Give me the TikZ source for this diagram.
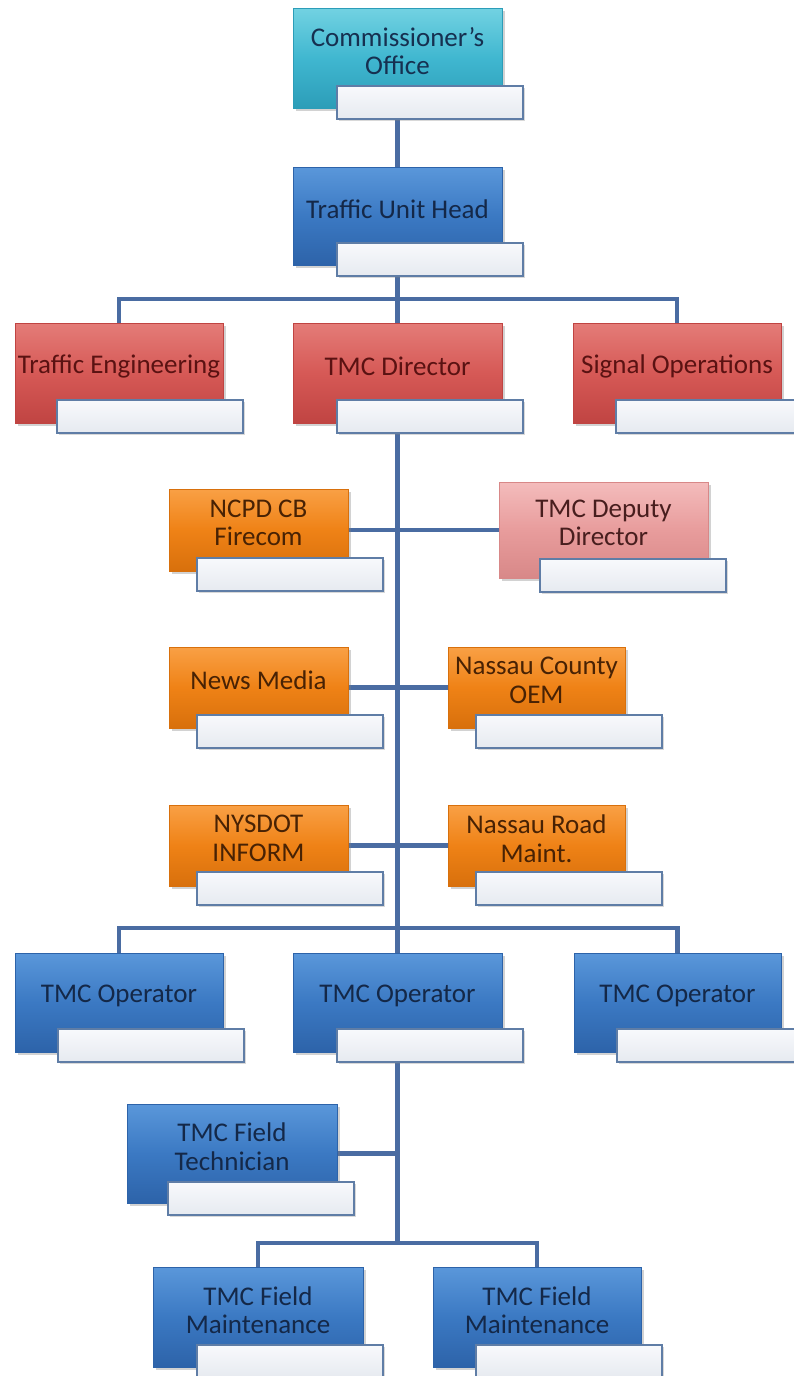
\documentclass[tikz,border=0pt]{standalone}
\usepackage{fontspec}
\setmainfont{Carlito}
\usetikzlibrary{shadows}
\definecolor{tealtop}{HTML}{72D2E2}
\definecolor{tealmid}{HTML}{40B7D0}
\definecolor{tealbot}{HTML}{2C9DB8}
\definecolor{bluetop}{HTML}{5A97DA}
\definecolor{bluemid}{HTML}{3B79C3}
\definecolor{bluebot}{HTML}{2D63A9}
\definecolor{redtop}{HTML}{E47C78}
\definecolor{redmid}{HTML}{D65956}
\definecolor{redbot}{HTML}{C04442}
\definecolor{orangetop}{HTML}{F9A045}
\definecolor{orangemid}{HTML}{EF8216}
\definecolor{orangebot}{HTML}{D8700C}
\definecolor{pinktop}{HTML}{F4BCBC}
\definecolor{pinkmid}{HTML}{E89C9C}
\definecolor{pinkbot}{HTML}{D88888}
\definecolor{connblue}{HTML}{4A6CA2}
\definecolor{subedge}{HTML}{5F7DA6}
\pgfdeclarelayer{bg}
\pgfsetlayers{bg,main}
\newcommand{\orgnode}[8]{%
  \node[#2box, minimum width=#4pt, minimum height=#5pt] (#1) at #3 {};
  \node[#2txt] (#1T) at ([yshift=7pt]#1.center) {#8};
  \node[subbox, anchor=north west] (#1S) at ([xshift=#6pt, yshift=-#7pt]#1.north west) {};
}
\begin{document}
\begin{tikzpicture}[x=1pt,y=-1pt,
  boxbase/.style={rectangle, inner sep=0pt, outer sep=0pt, line width=0.8pt,
    drop shadow={shadow xshift=2.5pt, shadow yshift=-2.5pt, opacity=0.35}},
  tealbox/.style={boxbase, draw=tealbot, top color=tealtop, bottom color=tealbot, middle color=tealmid},
  bluebox/.style={boxbase, draw=bluebot, top color=bluetop, bottom color=bluebot, middle color=bluemid},
  redbox/.style={boxbase, draw=redbot, top color=redtop, bottom color=redbot, middle color=redmid},
  orangebox/.style={boxbase, draw=orangebot, top color=orangetop, bottom color=orangebot, middle color=orangemid},
  pinkbox/.style={boxbase, draw=pinkbot, top color=pinktop, bottom color=pinkbot, middle color=pinkmid},
  txtbase/.style={align=center, inner sep=0pt, font=\fontsize{27}{28.5}\selectfont},
  tealtxt/.style={txtbase, text={rgb,255:red,22;green,48;blue,80}},
  bluetxt/.style={txtbase, text={rgb,255:red,20;green,40;blue,72}},
  redtxt/.style={txtbase, text={rgb,255:red,90;green,18;blue,18}},
  orangetxt/.style={txtbase, text={rgb,255:red,72;green,34;blue,4}},
  pinktxt/.style={txtbase, text={rgb,255:red,72;green,30;blue,30}},
  subbox/.style={rectangle, inner sep=0pt, outer sep=0pt, minimum width=186pt, minimum height=33pt,
    draw=subedge, line width=1.2pt, top color={rgb,255:red,248;green,249;blue,252},
    bottom color={rgb,255:red,230;green,234;blue,240},
    drop shadow={shadow xshift=2pt, shadow yshift=-2pt, opacity=0.3}},
  conn/.style={draw=connblue, line width=4.8pt, line join=miter}
]
\useasboundingbox (0,0) rectangle (794,1376);

\orgnode{com}{teal}{(397.5,58)}{209}{100}{44}{78}{Commissioner’s\\Office}
\orgnode{uh}{blue}{(397.5,216)}{209}{98}{44}{76}{Traffic Unit Head}
\orgnode{te}{red}{(119,373)}{208}{100}{42}{77}{Traffic Engineering}
\orgnode{dir}{red}{(397.5,373)}{209}{100}{44}{77}{TMC Director}
\orgnode{so}{red}{(677,373)}{208}{100}{43}{77}{Signal Operations}
\orgnode{ncpd}{orange}{(258.5,530)}{179}{82}{28}{69}{NCPD CB\\Firecom}
\orgnode{dep}{pink}{(603.5,530)}{209}{96}{41}{77}{TMC Deputy\\Director}
\orgnode{news}{orange}{(258.5,687.5)}{179}{81}{28}{68}{News Media}
\orgnode{oem}{orange}{(536.5,687.5)}{177}{81}{28}{68}{Nassau County\\OEM}
\orgnode{nys}{orange}{(258.5,845.5)}{179}{81}{28}{67}{NYSDOT\\INFORM}
\orgnode{road}{orange}{(536.5,845.5)}{177}{81}{28}{67}{Nassau Road\\Maint.}
\orgnode{opa}{blue}{(119,1002.5)}{208}{99}{43}{76}{TMC Operator}
\orgnode{opb}{blue}{(397.5,1002.5)}{209}{99}{44}{76}{TMC Operator}
\orgnode{opc}{blue}{(677.5,1002.5)}{207}{99}{43}{76}{TMC Operator}
\orgnode{ft}{blue}{(232,1153.5)}{210}{99}{41}{78}{TMC Field\\Technician}
\orgnode{fma}{blue}{(258,1317)}{210}{100}{44}{78}{TMC Field\\Maintenance}
\orgnode{fmb}{blue}{(537,1317)}{208}{100}{43}{78}{TMC Field\\Maintenance}

\coordinate (busa) at (397.5,299);
\coordinate (busb) at (397.5,928);
\coordinate (busc) at (397.5,1243);

\begin{pgfonlayer}{bg}
\fill[white] (0,0) rectangle (794,1376);
\draw[conn] (com.south |- comS.south) -- (uh.north);
\draw[conn] (uh.south |- uhS.south) -- (busa);
\draw[conn] (te.north) |- (busa) -| (so.north);
\draw[conn] (busa) -- (dir.north);
\draw[conn] (dir.south |- dirS.south) -- (busb);
\draw[conn] (ncpd.east) -- (dep.west);
\draw[conn] (news.east) -- (oem.west);
\draw[conn] (nys.east) -- (road.west);
\draw[conn] (opa.north) |- (busb) -| (opc.north);
\draw[conn] (busb) -- (opb.north);
\draw[conn] (opb.south |- opbS.south) -- (busc);
\draw[conn] (ft.east) -- (ft.east -| busc);
\draw[conn] (fma.north) |- (busc) -| (fmb.north);
\end{pgfonlayer}
\end{tikzpicture}
\end{document}
